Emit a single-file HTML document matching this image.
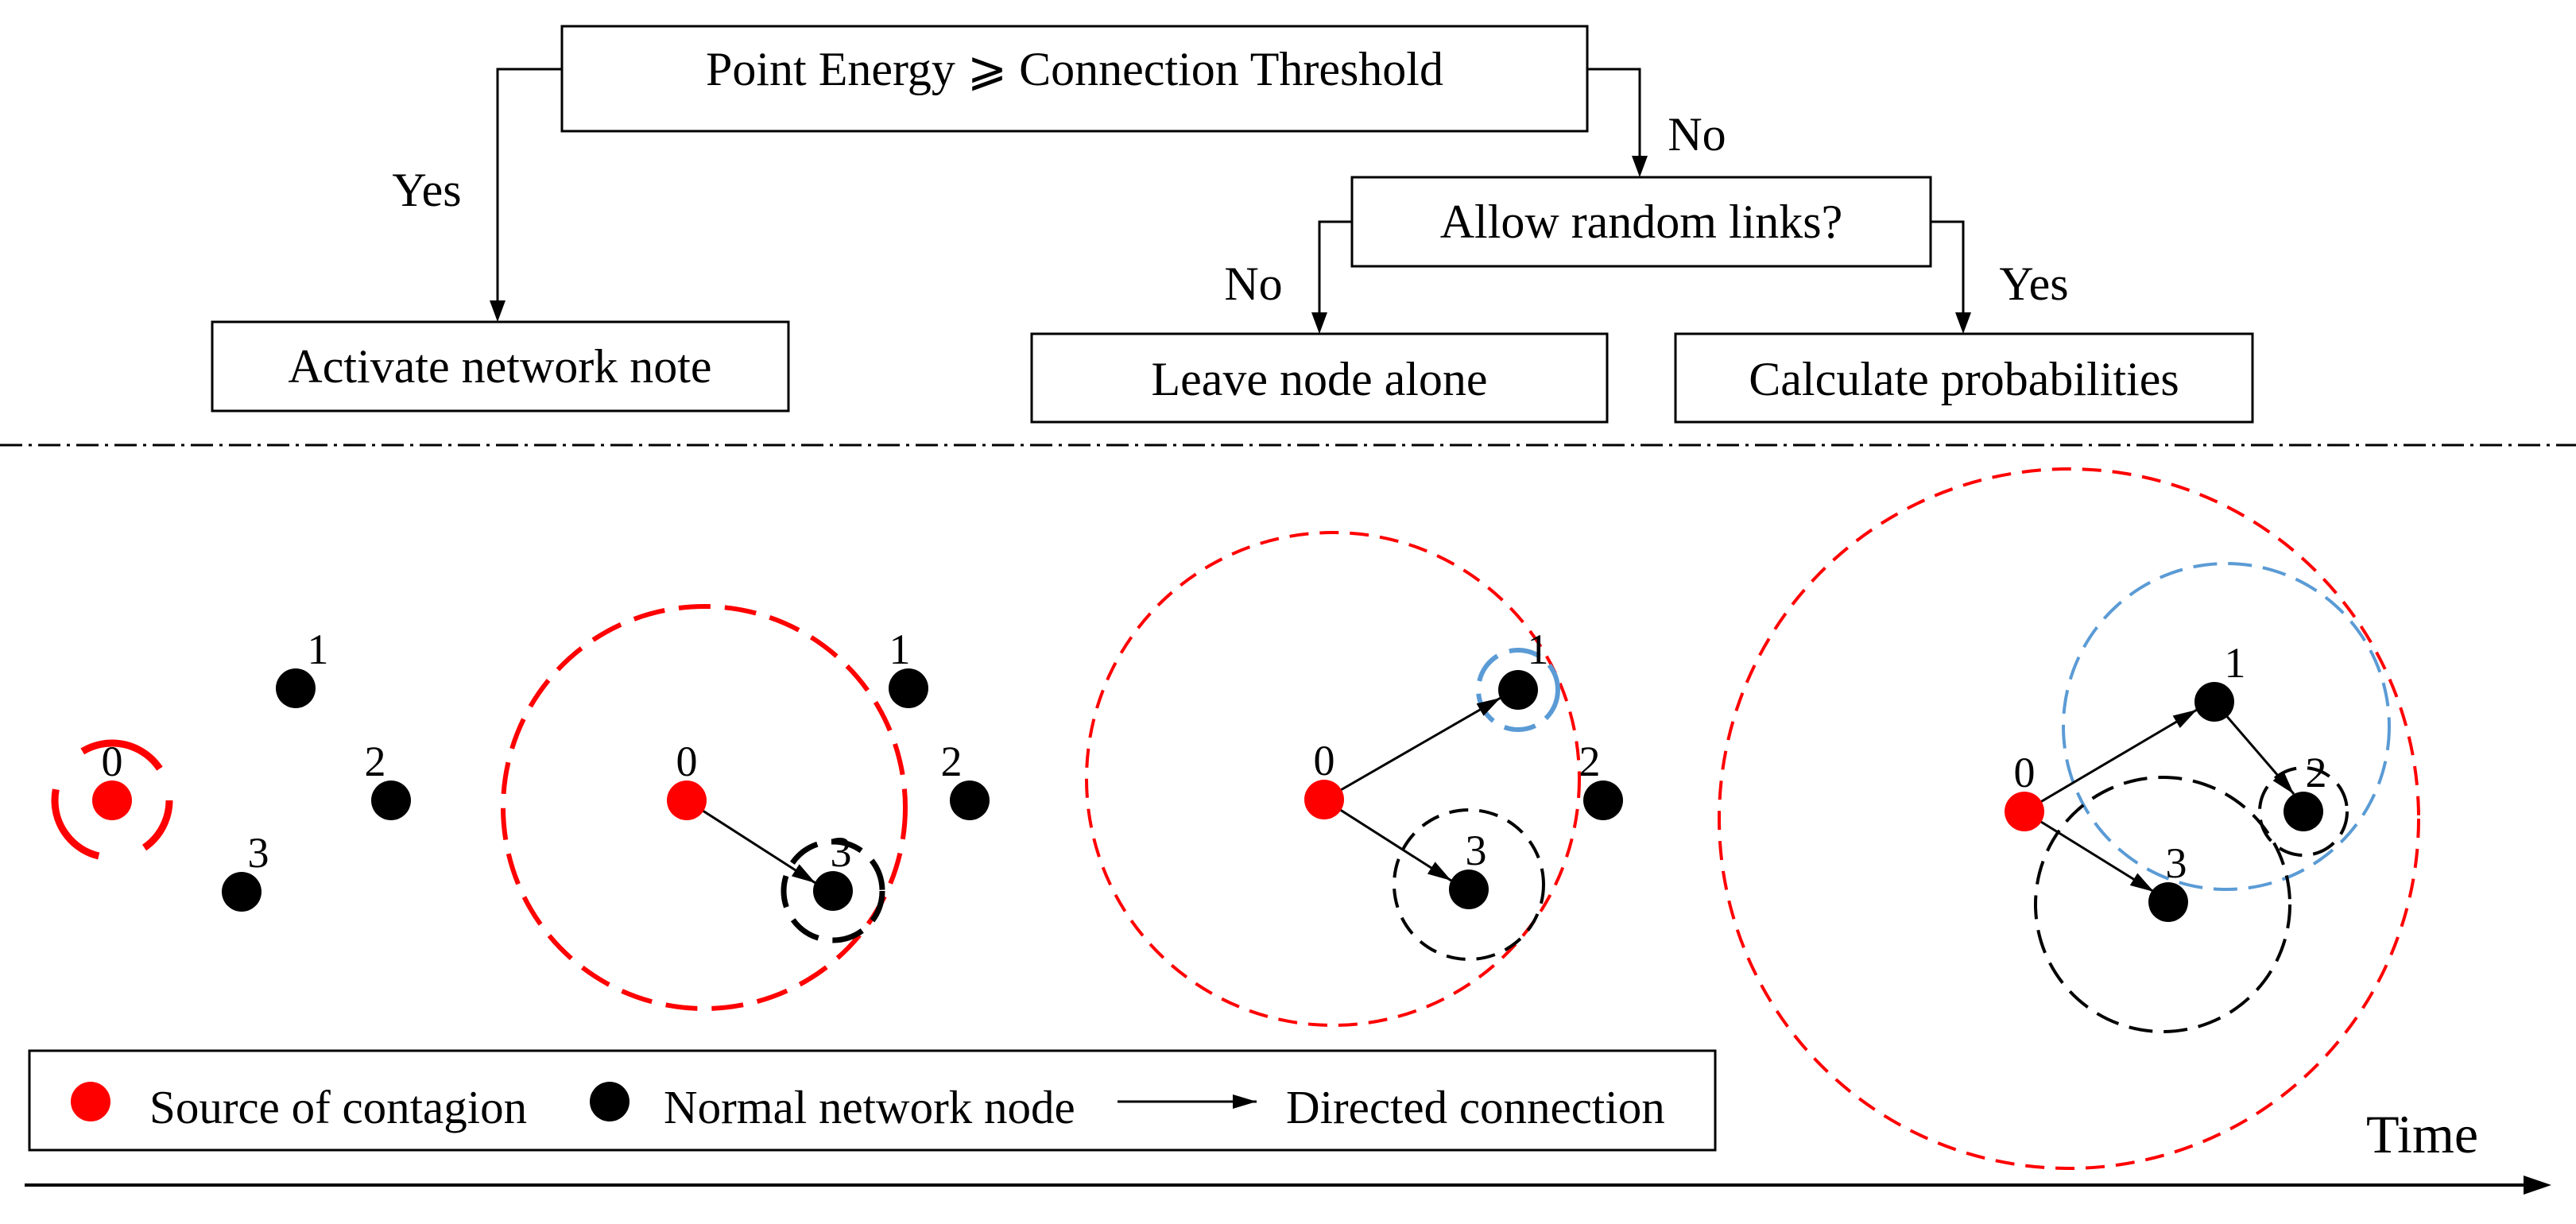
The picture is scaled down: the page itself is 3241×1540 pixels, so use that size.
<!DOCTYPE html>
<html><head><meta charset="utf-8"><style>html,body{margin:0;padding:0;background:#fff}svg{display:block}</style></head>
<body>
<svg width="3241" height="1540" viewBox="0 0 3241 1540" xmlns="http://www.w3.org/2000/svg" font-family="Liberation Serif, serif">
<defs>
<marker id="b" markerWidth="30" markerHeight="30" refX="30" refY="15" orient="auto" markerUnits="userSpaceOnUse"><path d="M0,6 L30,15 L0,24 z" fill="#000"/></marker>
</defs>
<g fill="#fff" stroke="#000" stroke-width="3">
<rect x="707" y="33" width="1290" height="132"/>
<rect x="267" y="405" width="725" height="112"/>
<rect x="1701" y="223" width="728" height="112"/>
<rect x="1298" y="420" width="724" height="111"/>
<rect x="2108" y="420" width="726" height="111"/>
</g>
<g fill="none" stroke="#000" stroke-width="3">
<path d="M707,87 H626 V378"/><path d="M1997,87 H2063 V196"/>
<path d="M1701,279 H1660 V393"/><path d="M2429,279 H2470 V393"/>
</g>
<g fill="#000">
<path d="M616,378 L636,378 L626,405 z"/><path d="M2053,196 L2073,196 L2063,223 z"/>
<path d="M1650,393 L1670,393 L1660,420 z"/><path d="M2460,393 L2480,393 L2470,420 z"/>
</g>
<g font-size="60" text-anchor="middle" fill="#000">
<text x="1352" y="107">Point Energy ⩾ Connection Threshold</text>
<text x="629" y="481">Activate network note</text>
<text x="2065" y="299">Allow random links?</text>
<text x="1660" y="497">Leave node alone</text>
<text x="2471" y="497">Calculate probabilities</text>
<text x="537" y="259">Yes</text>
<text x="2135" y="189">No</text>
<text x="1577" y="377">No</text>
<text x="2559" y="377">Yes</text>
</g>
<line x1="0" y1="560" x2="3241" y2="560" stroke="#000" stroke-width="3" stroke-dasharray="28,8,4,8"/>
<g fill="none">
<circle cx="141" cy="1007" r="72" stroke="#f00" stroke-width="9" stroke-dasharray="110,60" stroke-dashoffset="40"/>
<circle cx="886" cy="1016" r="253" stroke="#f00" stroke-width="6" stroke-dasharray="40,18"/>
<circle cx="1048" cy="1121" r="62" stroke="#000" stroke-width="7" stroke-dasharray="40,18"/>
<circle cx="1677" cy="980" r="310" stroke="#f00" stroke-width="4" stroke-dasharray="24,14"/>
<circle cx="1910" cy="868" r="50" stroke="#5b9bd5" stroke-width="6" stroke-dasharray="40,16"/>
<circle cx="1848" cy="1113" r="94" stroke="#000" stroke-width="4" stroke-dasharray="24,14"/>
<circle cx="2603" cy="1030" r="440" stroke="#f00" stroke-width="4" stroke-dasharray="24,14"/>
<circle cx="2801" cy="914" r="205" stroke="#5b9bd5" stroke-width="4" stroke-dasharray="30,14"/>
<circle cx="2721" cy="1138" r="160" stroke="#000" stroke-width="4" stroke-dasharray="30,14"/>
<circle cx="2898" cy="1021" r="55" stroke="#000" stroke-width="4" stroke-dasharray="30,14"/>
</g>
<g stroke="#000" stroke-width="3" marker-end="url(#b)">
<line x1="864" y1="1007" x2="1026" y2="1111"/>
<line x1="1666" y1="1006" x2="1888" y2="878"/>
<line x1="1666" y1="1006" x2="1826" y2="1108"/>
<line x1="2547" y1="1021" x2="2764" y2="893"/>
<line x1="2786" y1="883" x2="2886" y2="999"/>
<line x1="2547" y1="1021" x2="2710" y2="1122"/>
</g>
<g>
<circle cx="141" cy="1007" r="25" fill="#f00"/>
<circle cx="372" cy="866" r="25"/><circle cx="492" cy="1007" r="25"/><circle cx="304" cy="1122" r="25"/>
<circle cx="864" cy="1007" r="25" fill="#f00"/>
<circle cx="1143" cy="866" r="25"/><circle cx="1220" cy="1007" r="25"/><circle cx="1048" cy="1121" r="25"/>
<circle cx="1666" cy="1006" r="25" fill="#f00"/>
<circle cx="1910" cy="868" r="25"/><circle cx="2017" cy="1007" r="25"/><circle cx="1848" cy="1119" r="25"/>
<circle cx="2547" cy="1021" r="25" fill="#f00"/>
<circle cx="2786" cy="883" r="25"/><circle cx="2898" cy="1021" r="25"/><circle cx="2728" cy="1135" r="25"/>
</g>
<g font-size="54" text-anchor="middle" fill="#000">
<text x="141" y="976">0</text><text x="400" y="835">1</text><text x="472" y="976">2</text><text x="325" y="1091">3</text>
<text x="864" y="976">0</text><text x="1132" y="835">1</text><text x="1197" y="976">2</text><text x="1058" y="1090">3</text>
<text x="1666" y="975">0</text><text x="1935" y="835">1</text><text x="2000" y="976">2</text><text x="1857" y="1088">3</text>
<text x="2547" y="990">0</text><text x="2812" y="852">1</text><text x="2914" y="990">2</text><text x="2738" y="1104">3</text>
</g>
<rect x="37" y="1322" width="2121" height="125" fill="none" stroke="#000" stroke-width="3"/>
<circle cx="114" cy="1386" r="25" fill="#f00"/>
<circle cx="767" cy="1386" r="25"/>
<line x1="1406" y1="1386" x2="1581" y2="1386" stroke="#000" stroke-width="3" marker-end="url(#b)"/>
<g font-size="59" fill="#000">
<text x="188" y="1413">Source of contagion</text>
<text x="835" y="1413">Normal network node</text>
<text x="1618" y="1413">Directed connection</text>
<text x="2977" y="1450" font-size="68">Time</text>
</g>
<line x1="31" y1="1491" x2="3180" y2="1491" stroke="#000" stroke-width="4"/>
<path d="M3175,1479 L3210,1491 L3175,1503 z" fill="#000"/>
</svg>
</body></html>
